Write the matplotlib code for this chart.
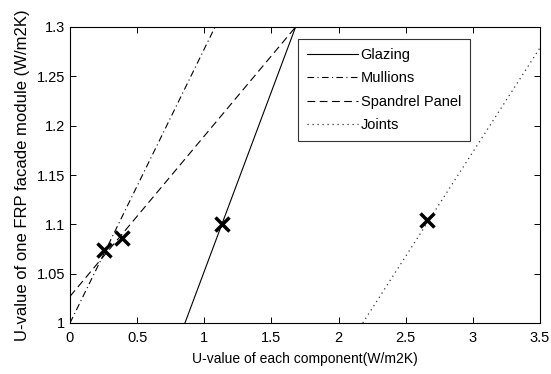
import numpy as np
import matplotlib

matplotlib.use("Agg")
import matplotlib.pyplot as plt

# ===================== Data =====================
labels = ["Glazing", "Mullions", "Spandrel Panel", "Joints"]
line_x = [[0.856, 1.68], [0.0, 1.08], [0.0, 1.68], [2.18, 3.5]]
line_y = [[1.0, 1.3], [1.0, 1.3], [1.027, 1.3], [1.0, 1.279]]
styles = ["-", "-.", "--", ":"]

mark_x = [0.25, 0.387, 1.13, 2.656]
mark_y = [1.074, 1.086, 1.10, 1.104]

# ===================== Style =====================
plt.rcParams.update({
    "font.family": ["Liberation Sans", "DejaVu Sans"],
    "font.size": 10,
    "xtick.direction": "in",
    "ytick.direction": "in",
    "xtick.top": True,
    "ytick.right": True,
})

fig = plt.figure(figsize=(5.51, 3.74), dpi=100)
ax = fig.add_axes([70 / 551, 51 / 374, 470 / 551, 296 / 374])

# ===================== Lines =====================
for xs, ys, ls, lab in zip(line_x, line_y, styles, labels):
    if ls == ":":
        ax.plot(xs, ys, color="#333333", linestyle=(0, (1, 3)), linewidth=0.9, label=lab)
    elif ls == "-.":
        ax.plot(xs, ys, color="black", linestyle=(0, (6, 3, 1, 3)), linewidth=0.8, label=lab)
    elif ls == "--":
        ax.plot(xs, ys, color="black", linestyle=(0, (7, 4)), linewidth=0.8, label=lab)
    else:
        ax.plot(xs, ys, color="black", linestyle=ls, linewidth=0.8, label=lab)

ax.plot(mark_x, mark_y, "x", color="black", markersize=10, markeredgewidth=2.5)

# ===================== Axes =====================
ax.set_xlim(0, 3.5)
ax.set_ylim(1.0, 1.3)
ax.set_xticks([0, 0.5, 1, 1.5, 2, 2.5, 3, 3.5])
ax.set_xticklabels(["0", "0.5", "1", "1.5", "2", "2.5", "3", "3.5"])
ax.set_yticks([1.0, 1.05, 1.1, 1.15, 1.2, 1.25, 1.3])
ax.set_yticklabels(["1", "1.05", "1.1", "1.15", "1.2", "1.25", "1.3"])
ax.tick_params(length=4, width=0.7, labelsize=10.5)
ax.tick_params(axis="x", pad=6)
for sp in ax.spines.values():
    sp.set_linewidth(0.8)

ax.set_xlabel("U-value of each component(W/m2K)", labelpad=5, fontsize=10)
ax.set_ylabel("U-value of one FRP facade module (W/m2K)", labelpad=5, fontsize=12)

leg = ax.legend(loc="upper left", bbox_to_anchor=(228 / 470, 1 - 12 / 296),
                frameon=True, fancybox=False, edgecolor="black", fontsize=10.5,
                handlelength=3.5, borderpad=0.6, labelspacing=0.65,
                handletextpad=0.2, borderaxespad=0)
leg.get_frame().set_linewidth(0.8)

fig.savefig("out.png", dpi=100)
